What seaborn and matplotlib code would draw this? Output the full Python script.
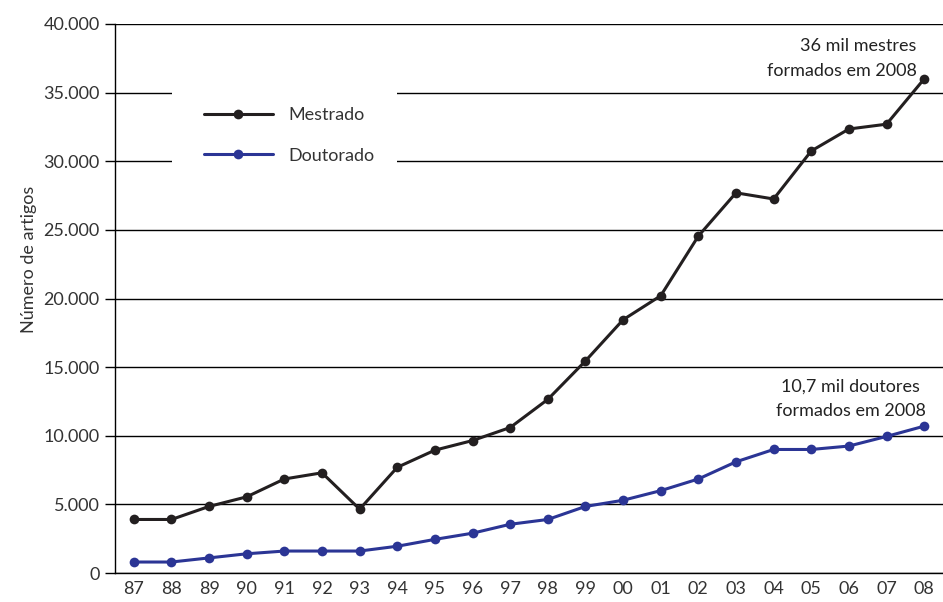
import numpy as np
import pandas as pd
import matplotlib
matplotlib.use("Agg")
import matplotlib.pyplot as plt
from matplotlib.patches import Rectangle
import seaborn as sns

anos = ["87", "88", "89", "90", "91", "92", "93", "94", "95", "96", "97",
        "98", "99", "00", "01", "02", "03", "04", "05", "06", "07", "08"]
mestrado = [3900, 3900, 4850, 5550, 6850, 7300, 4650, 7700, 8950, 9650, 10600,
            12650, 15450, 18450, 20200, 24550, 27700, 27250, 30750, 32350, 32700, 36000]
doutorado = [800, 800, 1100, 1400, 1600, 1600, 1600, 1950, 2450, 2900, 3550,
             3900, 4850, 5300, 6000, 6850, 8100, 9000, 9000, 9250, 9950, 10700]
series = ["Mestrado", "Doutorado"]
cores = ["#231f20", "#2b3595"]
y_ticks = [0, 5000, 10000, 15000, 20000, 25000, 30000, 35000, 40000]

df = pd.DataFrame({
    "pos": list(range(len(anos))) * 2,
    "valor": mestrado + doutorado,
    "serie": [series[0]] * len(anos) + [series[1]] * len(anos),
})

sns.set_theme(style="white")
plt.rcParams["font.family"] = ["Lato", "DejaVu Sans"]
txt = "#333333"

fig = plt.figure(figsize=(9.43, 6.02), dpi=100)
ax = fig.add_axes([115 / 943, 29 / 602, 828 / 943, 549 / 602])

sns.lineplot(data=df, x="pos", y="valor", hue="serie", palette=cores,
             marker="o", markersize=7, markeredgewidth=0, linewidth=2.2,
             ax=ax, zorder=3)

ax.set_xlim(-0.5, len(anos) - 0.5)
ax.set_ylim(0, 40000)
ax.set_yticks(y_ticks)
ax.set_yticklabels([f"{v:,}".replace(",", ".") for v in y_ticks])
ax.set_xticks(range(len(anos)))
ax.set_xticklabels(anos)
ax.set_xticks(np.arange(-0.5, len(anos), 1.0), minor=True)
ax.tick_params(axis="x", which="major", length=0, pad=6, labelsize=13, labelcolor=txt)
ax.tick_params(axis="x", which="minor", length=9, width=1, color="black", direction="out")
ax.tick_params(axis="y", length=7, width=1, color="black", direction="out",
               pad=4, labelsize=13, labelcolor=txt, left=True)
ax.yaxis.grid(True, color="black", linewidth=1)
ax.set_axisbelow(True)
for s in ["top", "right"]:
    ax.spines[s].set_visible(False)
for s in ["left", "bottom"]:
    ax.spines[s].set_color("black")
    ax.spines[s].set_linewidth(1)
ax.set_xlabel("")
ax.set_ylabel("Número de artigos", fontsize=13, color=txt)
ax.yaxis.set_label_coords(-0.094, 0.572)

# white block behind the legend, hiding the gridlines
ax.add_patch(Rectangle((172 / 943, 1 - 175 / 602), 225 / 943, 95 / 602,
                       transform=fig.transFigure, facecolor="white",
                       edgecolor="none", zorder=2))

leg = ax.legend(loc="upper left", bbox_to_anchor=(204 / 943, 1 - 107 / 602),
                bbox_transform=fig.transFigure, frameon=False, fontsize=13,
                handlelength=3.8, handletextpad=0.9, labelspacing=1.36,
                borderpad=0, borderaxespad=0)
for t in leg.get_texts():
    t.set_color(txt)

ax.text(20.8, 36000, "36 mil mestres\nformados em 2008", ha="right",
        va="bottom", fontsize=13, color="#222222", linespacing=1.65)
ax.text(19.05, 11250, "10,7 mil doutores\nformados em 2008", ha="center",
        va="bottom", fontsize=13, color="#222222", linespacing=1.65)

fig.savefig("out.png", dpi=100)
